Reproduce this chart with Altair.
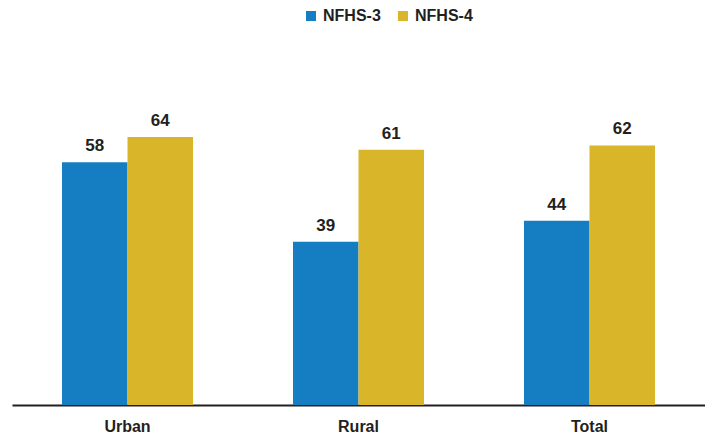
import altair as alt
import pandas as pd

categories = ["Urban", "Rural", "Total"]
series = ["NFHS-3", "NFHS-4"]
nfhs3 = [58, 39, 44]
nfhs4 = [64, 61, 62]
colors = ["#157DC2", "#D9B52A"]

rows = []
for c, a, b in zip(categories, nfhs3, nfhs4):
    rows.append({"area": c, "survey": series[0], "value": a})
    rows.append({"area": c, "survey": series[1], "value": b})
df = pd.DataFrame(rows)

FONT = "Liberation Sans"

base = alt.Chart(df).encode(
    x=alt.X("area:N", sort=categories,
            scale=alt.Scale(paddingInner=0, paddingOuter=0),
            axis=alt.Axis(title=None, labelAngle=0, ticks=False, labelPadding=13,
                          labelFont=FONT, labelFontSize=16, labelFontWeight="bold",
                          labelColor="#231F20", domainColor="#231F20", domainWidth=2,
                          domainOpacity=1, grid=False)),
    xOffset=alt.XOffset("survey:N", sort=series,
                        scale=alt.Scale(paddingInner=0, paddingOuter=0.763)),
    y=alt.Y("value:Q", scale=alt.Scale(domain=[0, 70], nice=False),
            axis=None),
)

bars = base.mark_bar().encode(
    color=alt.Color("survey:N", sort=series,
                    scale=alt.Scale(domain=series, range=colors),
                    legend=alt.Legend(title=None, orient="none", direction="horizontal",
                                      legendX=291, legendY=-104,
                                      symbolType="square", symbolSize=100,
                                      symbolStrokeWidth=0, symbolOpacity=1,
                                      labelFont=FONT, labelFontSize=16,
                                      labelFontWeight="bold", labelColor="#231F20",
                                      columnPadding=14, labelOffset=4))
)

labels = base.mark_text(baseline="bottom", dy=-7, font=FONT, fontSize=17,
                        fontWeight="bold", color="#231F20").encode(
    text=alt.Text("value:Q")
)

chart = (bars + labels).properties(
    width=693, height=293,
    background="white",
    padding={"left": 4, "top": 104, "right": 0, "bottom": 32},
    autosize=alt.AutoSizeParams(type="none"),
).configure_view(stroke="transparent", strokeWidth=0)

chart.save("out.html", embed_options={"renderer": "svg", "actions": False})
